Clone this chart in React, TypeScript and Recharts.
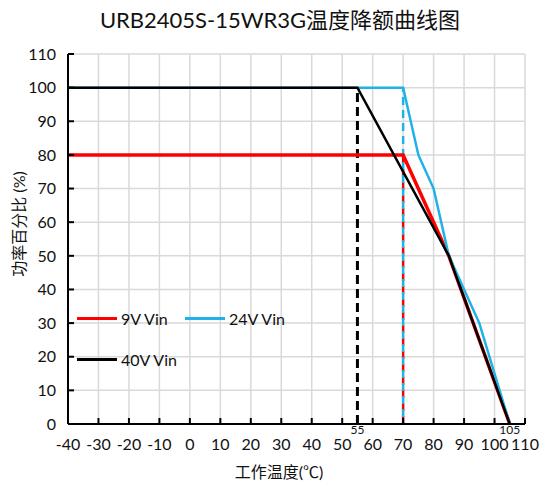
import React from "react";
import {
  LineChart,
  Line,
  XAxis,
  YAxis,
  CartesianGrid,
  ReferenceLine,
  ReferenceDot,
  Legend,
} from "recharts";

const xTicks = [-40, -30, -20, -10, 0, 10, 20, 30, 40, 50, 60, 70, 80, 90, 100, 110];
const yTicks = [0, 10, 20, 30, 40, 50, 60, 70, 80, 90, 100, 110];

const vin9 = [
  { t: -40, p: 80 },
  { t: 70, p: 80 },
  { t: 85, p: 50 },
  { t: 105, p: 0 },
];
const vin24 = [
  { t: -40, p: 100 },
  { t: 70, p: 100 },
  { t: 75, p: 80 },
  { t: 80, p: 70 },
  { t: 85, p: 50 },
  { t: 95, p: 30 },
  { t: 105, p: 0 },
];
const vin40 = [
  { t: -40, p: 100 },
  { t: 55, p: 100 },
  { t: 85, p: 50 },
  { t: 105, p: 0 },
];

const markers = [55, 105];

const series = [
  { name: "9V Vin", color: "#FF0000", width: 3.5, data: vin9 },
  { name: "24V Vin", color: "#1FB2E6", width: 2.5, data: vin24 },
  { name: "40V Vin", color: "#000000", width: 2.5, data: vin40 },
];

const FONT = "Lato, 'Noto Sans CJK SC', sans-serif";
const TICK_SIZE = 6;

function XTick(props: any) {
  const { x, y, payload } = props;
  const axisY = y - TICK_SIZE - 9;
  return (
    <g>
      <line x1={x} x2={x} y1={axisY} y2={axisY - 6} stroke="#000" strokeWidth={2} />
      <text x={x} y={y} dy="0.71em" textAnchor="middle" fontSize={16} fill="#111" fontFamily={FONT}>
        {payload.value}
      </text>
    </g>
  );
}

function YTick(props: any) {
  const { x, y, payload } = props;
  const axisX = x + TICK_SIZE + 6;
  return (
    <g>
      <line x1={axisX} x2={axisX + 6} y1={y} y2={y} stroke="#000" strokeWidth={2} />
      <text x={x} y={y} dy="0.36em" textAnchor="end" fontSize={16} fill="#111" fontFamily={FONT}>
        {payload.value}
      </text>
    </g>
  );
}

function renderLegend() {
  return (
    <div
      style={{
        position: "absolute",
        left: 77,
        top: 298,
        width: 230,
        display: "flex",
        flexWrap: "wrap",
        fontFamily: FONT,
        fontSize: 16,
        color: "#111",
      }}
    >
      {series.map((s) => (
        <div key={s.name} style={{ width: 108, height: 41, display: "flex", alignItems: "center" }}>
          <div style={{ width: 40, height: s.width, background: s.color, marginRight: 4 }} />
          <span>{s.name}</span>
        </div>
      ))}
    </div>
  );
}

export default function App() {
  return (
    <div style={{ position: "absolute", left: 0, top: 0, width: 540, height: 483, background: "#fff" }}>
      <div
        style={{
          position: "absolute",
          left: 0,
          top: 2,
          width: 560,
          textAlign: "center",
          fontFamily: FONT,
          fontSize: 22,
          color: "#111",
          zIndex: 2,
        }}
      >
        URB2405S-15WR3G温度降额曲线图
      </div>
      <LineChart width={540} height={483} margin={{ top: 54, right: 15, left: 18, bottom: 19 }}>
        <CartesianGrid stroke="#d9d9d9" strokeWidth={1.5} />
        <XAxis
          type="number"
          dataKey="t"
          domain={[-40, 110]}
          ticks={xTicks}
          interval={0}
          allowDataOverflow
          height={40}
          tickSize={TICK_SIZE}
          tickMargin={9}
          tickLine={false}
          tick={<XTick />}
          axisLine={{ stroke: "#000", strokeWidth: 2 }}
          label={{
            content: () => (
              <text x={279} y={472} dy="0.36em" textAnchor="middle" fontSize={16} fill="#111" fontFamily={FONT}>
                工作温度(℃)
              </text>
            ),
          }}
        />
        <YAxis
          type="number"
          domain={[0, 110]}
          ticks={yTicks}
          interval={0}
          width={50}
          tickSize={TICK_SIZE}
          tickMargin={6}
          tickLine={false}
          tick={<YTick />}
          axisLine={{ stroke: "#000", strokeWidth: 2 }}
          label={{
            content: () => (
              <text
                x={19}
                y={224}
                dy="0.36em"
                textAnchor="middle"
                fontSize={16}
                fill="#111"
                fontFamily={FONT}
                transform="rotate(-90 19 224)"
              >
                功率百分比 (%)
              </text>
            ),
          }}
        />
        <ReferenceLine
          segment={[{ x: 55, y: 0 }, { x: 55, y: 100 }]}
          stroke="#000"
          strokeWidth={3}
          strokeDasharray="9 5"
        />
        <ReferenceLine
          segment={[{ x: 70, y: 0 }, { x: 70, y: 80 }]}
          stroke="#FF0000"
          strokeWidth={2.5}
          strokeDasharray="8 5"
        />
        <ReferenceLine
          segment={[{ x: 70, y: 0 }, { x: 70, y: 100 }]}
          stroke="#1FB2E6"
          strokeWidth={2.5}
          strokeDasharray="8 5"
          strokeDashoffset={6}
        />
        {series.map((s) => (
          <Line
            key={s.name}
            data={s.data}
            dataKey="p"
            name={s.name}
            stroke={s.color}
            strokeWidth={s.width}
            dot={false}
            activeDot={false}
            isAnimationActive={false}
            strokeLinejoin="miter"
          />
        ))}
        {markers.map((m) => (
          <ReferenceDot
            key={m}
            x={m}
            y={0}
            shape={(p: any) => (
              <text x={p.cx} y={p.cy + 6} dy="0.36em" textAnchor="middle" fontSize={12} fill="#111" fontFamily={FONT}>
                {m}
              </text>
            )}
          />
        ))}
        <Legend
          layout="vertical"
          align="center"
          verticalAlign="middle"
          wrapperStyle={{ left: 0, top: 0, width: 540, height: 483, pointerEvents: "none" }}
          content={renderLegend}
        />
      </LineChart>
    </div>
  );
}
